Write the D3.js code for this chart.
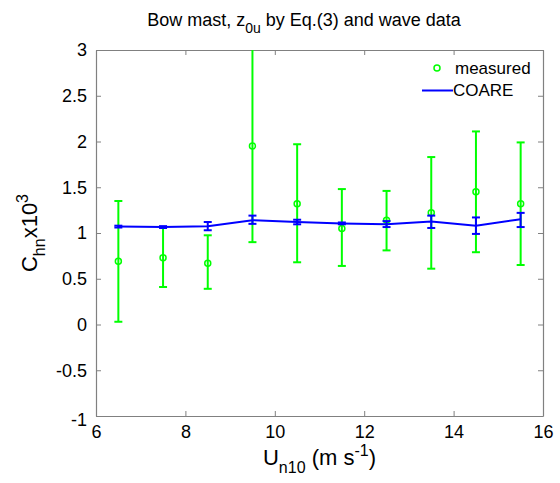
<!DOCTYPE html>
<html>
<head>
<meta charset="utf-8">
<script src="https://cdn.jsdelivr.net/npm/d3@7.9.0/dist/d3.min.js"></script>
<style>
  body { margin: 0; background: #fff; }
  text { font-family: "Liberation Sans", Arial, sans-serif; fill: #000; }
</style>
</head>
<body>
<script>
// wind speed bins (m/s)
const windSpeed = [6.5, 7.5, 8.5, 9.5, 10.5, 11.5, 12.5, 13.5, 14.5, 15.5];

// measured C_hn x 10^3 with error bar ends
const measMean  = [0.69, 0.73, 0.67, 1.95, 1.32, 1.05, 1.14, 1.22, 1.45, 1.32];
const measUpper = [1.35, 1.06, 0.975, 3.40, 1.97, 1.48, 1.46, 1.83, 2.11, 1.99];
const measLower = [0.03, 0.41, 0.39, 0.90, 0.68, 0.64, 0.81, 0.61, 0.79, 0.65];

// COARE model
const coareMean  = [1.07, 1.065, 1.075, 1.14, 1.12, 1.105, 1.095, 1.125, 1.08, 1.15];
const coareUpper = [1.08, 1.075, 1.12, 1.19, 1.145, 1.115, 1.13, 1.19, 1.17, 1.22];
const coareLower = [1.06, 1.055, 1.03, 1.10, 1.095, 1.095, 1.065, 1.055, 0.99, 1.065];

const xTicks = [6, 8, 10, 12, 14, 16];
const yTicks = [-1, -0.5, 0, 0.5, 1, 1.5, 2, 2.5, 3];

const width = 560, height = 483;
const margin = { left: 96, right: 17, top: 50, bottom: 67 };

const svg = d3.select("body").append("svg")
    .attr("width", width)
    .attr("height", height);

const x = d3.scaleLinear().domain([6, 16]).range([margin.left, width - margin.right]);
const y = d3.scaleLinear().domain([-1, 3]).range([height - margin.bottom, margin.top]);

svg.append("defs").append("clipPath").attr("id", "plotclip")
    .append("rect")
    .attr("x", x(6)).attr("y", y(3))
    .attr("width", x(16) - x(6)).attr("height", y(-1) - y(3));

const axisColor = "#808080";
const tickLen = 5;

// axes with inward ticks on all four sides
const bottomAxis = svg.append("g")
    .attr("transform", `translate(0,${y(-1)})`)
    .call(d3.axisBottom(x).tickValues(xTicks).tickSizeInner(-tickLen).tickSizeOuter(0).tickPadding(9).tickFormat(d3.format("d")));
const topAxis = svg.append("g")
    .attr("transform", `translate(0,${y(3)})`)
    .call(d3.axisTop(x).tickValues(xTicks).tickSizeInner(-tickLen).tickSizeOuter(0).tickFormat(""));
const leftAxis = svg.append("g")
    .attr("transform", `translate(${x(6)},0)`)
    .call(d3.axisLeft(y).tickValues(yTicks).tickSizeInner(-tickLen).tickSizeOuter(0).tickPadding(9).tickFormat(d => String(d)));
const rightAxis = svg.append("g")
    .attr("transform", `translate(${x(16)},0)`)
    .call(d3.axisRight(y).tickValues(yTicks).tickSizeInner(-tickLen).tickSizeOuter(0).tickFormat(""));

[bottomAxis, topAxis, leftAxis, rightAxis].forEach(g => {
    g.select(".domain").attr("stroke", axisColor).attr("stroke-width", 1.2);
    g.selectAll(".tick line").attr("stroke", axisColor).attr("stroke-width", 1);
    g.selectAll(".tick text")
        .style("font-family", '"Liberation Sans", Arial, sans-serif')
        .style("font-size", "18px")
        .attr("fill", "#000");
});
// the -1 label sits a little lower, next to the 6
leftAxis.selectAll(".tick text").filter(d => d === -1).attr("dy", "0.5em");

const plot = svg.append("g").attr("clip-path", "url(#plotclip)");

function errorBars(g, xs, lo, hi, color, capHalf, sw) {
    xs.forEach((xv, i) => {
        const cx = x(xv);
        g.append("line")
            .attr("x1", cx).attr("x2", cx)
            .attr("y1", y(lo[i])).attr("y2", y(hi[i]))
            .attr("stroke", color).attr("stroke-width", sw);
        [lo[i], hi[i]].forEach(v => {
            g.append("line")
                .attr("x1", cx - capHalf).attr("x2", cx + capHalf)
                .attr("y1", y(v)).attr("y2", y(v))
                .attr("stroke", color).attr("stroke-width", sw);
        });
    });
}

// measured: green error bars + circles
const gMeas = plot.append("g");
errorBars(gMeas, windSpeed, measLower, measUpper, "#00ff00", 4, 2);
gMeas.selectAll("circle")
    .data(windSpeed)
    .enter()
    .append("circle")
    .attr("cx", d => x(d))
    .attr("cy", (d, i) => y(measMean[i]))
    .attr("r", 3)
    .attr("fill", "none")
    .attr("stroke", "#00ff00")
    .attr("stroke-width", 1.5);

// COARE: blue line with error bars
const gCoare = plot.append("g");
gCoare.append("path")
    .datum(windSpeed)
    .attr("fill", "none")
    .attr("stroke", "#0000ff")
    .attr("stroke-width", 2)
    .attr("d", d3.line().x(d => x(d)).y((d, i) => y(coareMean[i])));
errorBars(gCoare, windSpeed, coareLower, coareUpper, "#0000ff", 4, 2);

// legend
const legend = svg.append("g");
legend.append("circle")
    .attr("cx", 437).attr("cy", 68).attr("r", 3)
    .attr("fill", "none").attr("stroke", "#00ff00").attr("stroke-width", 1.5);
legend.append("text")
    .attr("x", 455).attr("y", 74)
    .style("font-size", "17px")
    .text("measured");
legend.append("line")
    .attr("x1", 422).attr("x2", 453).attr("y1", 90.5).attr("y2", 90.5)
    .attr("stroke", "#0000ff").attr("stroke-width", 2);
legend.append("text")
    .attr("x", 453).attr("y", 96)
    .style("font-size", "17px")
    .text("COARE");

// title
const title = svg.append("text")
    .attr("x", 304)
    .attr("y", 26)
    .attr("text-anchor", "middle")
    .style("font-size", "18px");
title.append("tspan").text("Bow mast, z");
title.append("tspan").attr("dy", 7).style("font-size", "14px").text("0u");
title.append("tspan").attr("dy", -7).text(" by Eq.(3) and wave data");

// x label
const xlab = svg.append("text")
    .attr("x", (x(6) + x(16)) / 2)
    .attr("y", 465)
    .attr("text-anchor", "middle")
    .style("font-size", "22px");
xlab.append("tspan").text("U");
xlab.append("tspan").attr("dy", 8).style("font-size", "16px").text("n10");
xlab.append("tspan").attr("dy", -8).text(" (m s");
xlab.append("tspan").attr("dy", -9).style("font-size", "16px").text("-1");
xlab.append("tspan").attr("dy", 9).text(")");

// y label
const ylab = svg.append("text")
    .attr("transform", `translate(37,${(y(-1) + y(3)) / 2}) rotate(-90)`)
    .attr("text-anchor", "middle")
    .style("font-size", "22px");
ylab.append("tspan").text("C");
ylab.append("tspan").attr("dy", 8).style("font-size", "16px").text("hn");
ylab.append("tspan").attr("dy", -8).text("x10");
ylab.append("tspan").attr("dy", -9).style("font-size", "16px").text("3");
</script>
</body>
</html>
